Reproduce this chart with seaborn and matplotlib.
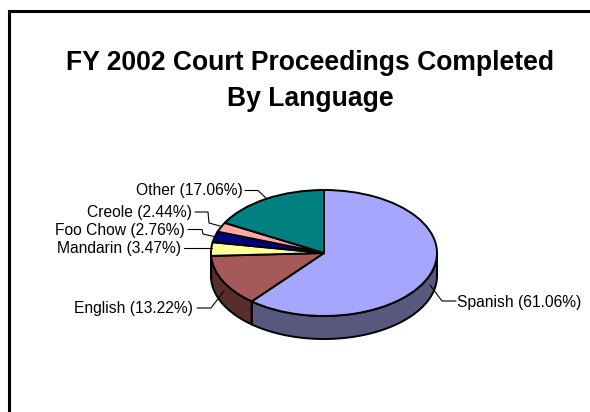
import numpy as np
import matplotlib
matplotlib.use("Agg")
import matplotlib.pyplot as plt
from matplotlib.lines import Line2D
import seaborn as sns

# Chart data
languages = ["Spanish", "English", "Mandarin", "Foo Chow", "Creole", "Other"]
shares = [61.06, 13.22, 3.47, 2.76, 2.44, 17.06]
top_colors = ["#A6A6FF", "#A65959", "#FFFF99", "#000080", "#FFA6A6", "#008080"]
side_colors = ["#58587F", "#582D2D", "#7F7F4C", "#000040", "#7F5353", "#004040"]
title = "FY 2002 Court Proceedings Completed\nBy Language"

# Layout in reference pixels
W, H = 590, 412
cx, cy, rx, ry, depth = 324, 253, 113, 63, 23

label_anchor = {
    "Spanish": (457, 302, "left"),
    "English": (193, 309, "right"),
    "Mandarin": (181, 249, "right"),
    "Foo Chow": (185, 230, "right"),
    "Creole": (192, 212, "right"),
    "Other": (243, 191, "right"),
}
leaders = {
    "Spanish": [(456, 301), (442, 301), (430, 285)],
    "English": [(197, 308), (211, 308), (224, 291)],
    "Mandarin": [(184, 248), (212, 248)],
    "Foo Chow": [(188, 229.5), (202, 229.5), (203, 234), (214, 236.5)],
    "Creole": [(195, 212), (208, 212), (209, 223), (220, 226)],
    "Other": [(245, 190.5), (258, 190.5), (266, 198)],
}

sns.set_theme(style="white")
plt.rcParams["font.family"] = ["Liberation Sans", "DejaVu Sans"]


def fx(x):
    return x / W


def fy(y):
    return 1 - y / H


fig = plt.figure(figsize=(W / 100, H / 100), dpi=100, facecolor="white")
ax = fig.add_axes([0, 0, 1, 1])

# Pie top
wedges, _ = ax.pie(
    shares,
    colors=top_colors,
    startangle=90,
    counterclock=False,
    radius=1,
    wedgeprops={"edgecolor": "black", "linewidth": 1.4, "zorder": 3},
)

# Squash to an ellipse, one data unit = rx / ry pixels
ax.set_aspect("auto")
ax.set_xlim(-cx / rx, (W - cx) / rx)
ax.set_ylim(-(H - cy) / ry, cy / ry)
ax.set_axis_off()

# Pie side, only the part facing the viewer
drop = depth / ry
edges = 90 - np.cumsum([0] + shares) * 360 / sum(shares)
for start, end, color in zip(edges[:-1], edges[1:], side_colors):
    lo, hi = max(end, -180), min(start, 0)
    if lo >= hi:
        continue
    t = np.radians(np.linspace(lo, hi, 80))
    xs = np.concatenate([np.cos(t), np.cos(t[::-1])])
    ys = np.concatenate([np.sin(t), np.sin(t[::-1]) - drop])
    ax.fill(xs, ys, facecolor=color, edgecolor="black", linewidth=1.4, zorder=2)

# Labels and leader lines
for name, value in zip(languages, shares):
    x, y, ha = label_anchor[name]
    fig.text(fx(x), fy(y), f"{name} ({value:.2f}%)", ha=ha, va="center",
             fontsize=11.25, color="black")
    pts = leaders[name]
    fig.add_artist(Line2D([fx(p[0]) for p in pts], [fy(p[1]) for p in pts],
                          color="black", linewidth=0.8, zorder=5))

fig.text(fx(310), fy(81), title, ha="center", va="center", fontsize=19.1,
         fontweight="bold", color="black", linespacing=1.52)

# Slide frame, cut off at the right and bottom
fig.add_artist(Line2D([fx(8.5), fx(8.5), 1], [0, fy(10.5), fy(10.5)],
                      color="black", linewidth=2.2, solid_joinstyle="miter"))

fig.savefig("out.png", dpi=100, facecolor="white")
